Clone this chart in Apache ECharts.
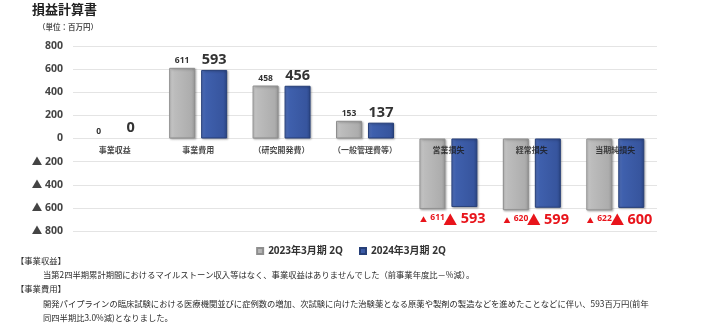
<!DOCTYPE html>
<html>
<head>
<meta charset="utf-8">
<script src="https://cdn.jsdelivr.net/npm/echarts@6/dist/echarts.min.js"></script>
<style>
  html, body { margin: 0; padding: 0; background: #fff; }
  #chart { width: 702px; height: 336px; }
</style>
</head>
<body>
<div id="chart"></div>
<script>
// 損益計算書（単位：百万円）
const categories = ['事業収益', '事業費用', '（研究開発費）', '（一般管理費等）', '営業損失', '経常損失', '当期純損失'];
const seriesNames = ['2023年3月期 2Q', '2024年3月期 2Q'];
const fy2023q2 = [0, 611, 458, 153, -611, -620, -622];
const fy2024q2 = [0, 593, 456, 137, -593, -599, -600];
const yTickValues = [-800, -600, -400, -200, 0, 200, 400, 600, 800];

const notes = [
  '【事業収益】',
  '当第2四半期累計期間におけるマイルストーン収入等はなく、事業収益はありませんでした（前事業年度比－%減）。',
  '【事業費用】',
  '開発パイプラインの臨床試験における医療機関並びに症例数の増加、次試験に向けた治験薬となる原薬や製剤の製造などを進めたことなどに伴い、593百万円(前年',
  '同四半期比3.0%減)となりました。'
];

const NUM_FONT = '"Open Sans", "Noto Sans CJK JP", sans-serif';
const JP_FONT = '"Noto Sans CJK JP", sans-serif';
const RED = '#e8141b';
const GRID_COLOR = '#e4e4e4';

const grayFill = new echarts.graphic.LinearGradient(0, 0, 1, 0, [
  { offset: 0, color: '#d6d6d6' },
  { offset: 0.18, color: '#bdbdbd' },
  { offset: 0.85, color: '#adadad' },
  { offset: 1, color: '#979797' }
]);
const blueFill = new echarts.graphic.LinearGradient(0, 0, 1, 0, [
  { offset: 0, color: '#5676c2' },
  { offset: 0.18, color: '#3f60ad' },
  { offset: 0.85, color: '#37559e' },
  { offset: 1, color: '#2b4583' }
]);

function labelFor(value, big) {
  const neg = value < 0;
  return {
    show: true,
    position: neg ? 'bottom' : 'top',
    distance: neg ? (big ? 5 : 4) : 3,
    formatter: neg ? '{t|▲} {n|' + (-value) + '}' : '{p|' + value + '}',
    rich: big ? {
      t: { fontSize: 14, fontWeight: 'bold', color: RED, fontFamily: JP_FONT },
      n: { fontSize: 14.5, fontWeight: 'bold', color: RED, fontFamily: NUM_FONT },
      p: { fontSize: 14.5, fontWeight: 'bold', color: '#333', fontFamily: NUM_FONT }
    } : {
      t: { fontSize: 7, fontWeight: 'bold', color: RED, fontFamily: JP_FONT },
      n: { fontSize: 8.5, fontWeight: 'bold', color: RED, fontFamily: NUM_FONT, verticalAlign: 'top' },
      p: { fontSize: 8.5, fontWeight: 'bold', color: '#333', fontFamily: NUM_FONT }
    }
  };
}

// zero-height bars carry only their label, no outline
function toItems(values, big) {
  return values.map(v => {
    const item = { value: v, label: labelFor(v, big) };
    if (v === 0) {
      item.itemStyle = { borderWidth: 0, shadowBlur: 0, shadowOffsetX: 0, shadowOffsetY: 0 };
    }
    return item;
  });
}

const noteLayout = [
  { left: 16, top: 257 },
  { left: 43, top: 271 },
  { left: 16, top: 285 },
  { left: 43, top: 300 },
  { left: 43, top: 314 }
];

const chart = echarts.init(document.getElementById('chart'), null, { renderer: 'canvas' });

chart.setOption({
  animation: false,
  backgroundColor: '#ffffff',
  grid: { left: 73, right: 45, top: 46, bottom: 105, containLabel: false },
  legend: {
    data: seriesNames,
    top: 241,
    left: 'center',
    itemWidth: 6,
    itemHeight: 6,
    itemGap: 16,
    icon: 'rect',
    textStyle: { fontSize: 10, fontWeight: 'bold', color: '#333', fontFamily: NUM_FONT }
  },
  xAxis: {
    type: 'category',
    data: categories,
    axisLine: { show: false },
    axisTick: { show: false },
    axisLabel: { show: false }
  },
  yAxis: {
    type: 'value',
    min: -800,
    max: 800,
    interval: 200,
    axisLine: { show: false },
    axisTick: { show: false },
    splitLine: { lineStyle: { color: GRID_COLOR, width: 1 } },
    axisLabel: {
      margin: 10,
      fontSize: 10.5,
      fontWeight: 'bold',
      color: '#444',
      fontFamily: NUM_FONT,
      formatter: v => (yTickValues.indexOf(v) < 0 ? '' : (v < 0 ? '▲ ' + (-v) : String(v)))
    }
  },
  series: [
    {
      name: seriesNames[0],
      type: 'bar',
      barWidth: 26,
      barGap: '23%',
      data: toItems(fy2023q2, false),
      itemStyle: {
        color: grayFill,
        borderColor: '#8e8e8e',
        borderWidth: 1,
        shadowColor: 'rgba(0,0,0,0.25)',
        shadowBlur: 2,
        shadowOffsetX: 1,
        shadowOffsetY: 1
      }
    },
    {
      name: seriesNames[1],
      type: 'bar',
      barWidth: 26,
      barGap: '23%',
      data: toItems(fy2024q2, true),
      itemStyle: {
        color: blueFill,
        borderColor: '#263f78',
        borderWidth: 1,
        shadowColor: 'rgba(0,0,0,0.25)',
        shadowBlur: 2,
        shadowOffsetX: 1,
        shadowOffsetY: 1
      }
    },
    {
      // category names sit just under the zero line, drawn over the bars
      name: 'categoryNames',
      type: 'scatter',
      z: 10,
      symbolSize: 0,
      silent: true,
      data: categories.map(() => 0),
      label: {
        show: true,
        position: 'bottom',
        distance: 7,
        formatter: p => p.name,
        fontSize: 8,
        fontWeight: 'bold',
        color: '#1a1a1a',
        fontFamily: JP_FONT
      }
    }
  ],
  graphic: [
    {
      type: 'text', left: 32, top: 3,
      style: { text: '損益計算書', font: 'bold 13px "Noto Sans CJK JP", sans-serif', fill: '#222' }
    },
    {
      type: 'text', left: 38, top: 23,
      style: { text: '（単位：百万円）', font: 'bold 7.5px "Noto Sans CJK JP", sans-serif', fill: '#555' }
    }
  ].concat(notes.map((t, i) => ({
    type: 'text',
    left: noteLayout[i].left,
    top: noteLayout[i].top,
    style: { text: t, font: '8.3px "Noto Sans CJK JP", sans-serif', fill: '#2a2a2a' }
  })))
});
</script>
</body>
</html>
